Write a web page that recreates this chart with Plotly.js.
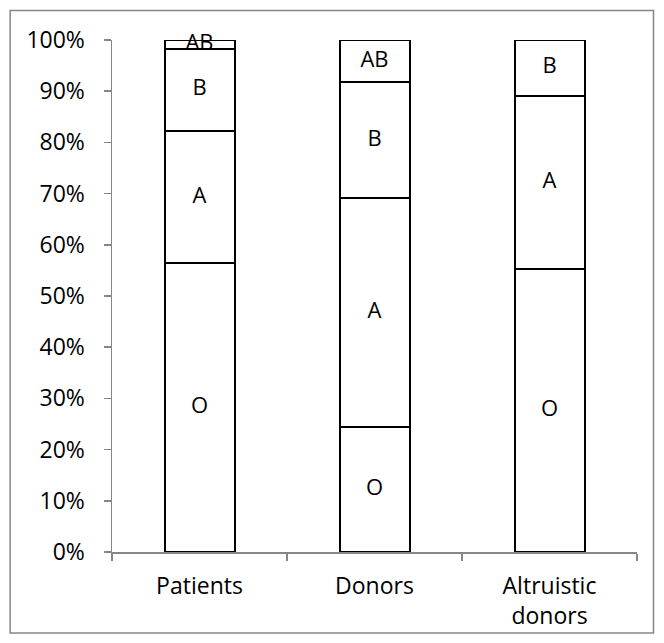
<!DOCTYPE html>
<html>
<head>
<meta charset="utf-8">
<script src="https://cdn.plot.ly/plotly-3.0.1.min.js"></script>
<style>
  html, body { margin: 0; padding: 0; background: #ffffff; }
  #chart { width: 664px; height: 643px; }
</style>
</head>
<body>
<div id="chart"></div>
<script>
// Blood group distribution (share of each group, %)
const groups = ["Patients", "Donors", "Altruistic<br>donors"];
const bloodTypes = ["O", "A", "B", "AB"];
const valuesO  = [56.4, 24.5, 55.3];
const valuesA  = [25.8, 44.6, 33.8];
const valuesB  = [16.1, 22.7, 10.9];
const valuesAB = [1.7, 8.2, 0];
const yTickVals = [0, 10, 20, 30, 40, 50, 60, 70, 80, 90, 100];
const yTickText = ["0%", "10%", "20%", "30%", "40%", "50%", "60%", "70%", "80%", "90%", "100%"];

const seriesValues = [valuesO, valuesA, valuesB, valuesAB];
const FONT = "Open Sans, Noto Sans, sans-serif";
const AXIS_GREY = "#868686";

// stacked segments: white boxes with black outlines
const barTraces = bloodTypes.map((name, i) => ({
  type: "bar",
  name: name,
  x: groups,
  y: seriesValues[i],
  marker: { color: "#ffffff", line: { color: "#000000", width: 2 } },
  hoverinfo: "skip"
}));

// group names centred on each segment (drawn even when the segment is thin)
const labelX = [], labelY = [], labelText = [];
groups.forEach((g, j) => {
  let base = 0;
  seriesValues.forEach((vals, i) => {
    const v = vals[j];
    if (v > 0) {
      labelX.push(g);
      labelY.push(base + v / 2);
      labelText.push(bloodTypes[i]);
    }
    base += v;
  });
});

const labelTrace = {
  type: "scatter",
  mode: "text",
  x: labelX,
  y: labelY,
  text: labelText,
  textposition: "middle center",
  textfont: { family: FONT, size: 22, color: "#000000" },
  cliponaxis: false,
  hoverinfo: "skip"
};

const layout = {
  width: 664,
  height: 643,
  barmode: "stack",
  bargap: 0.6,
  showlegend: false,
  paper_bgcolor: "#ffffff",
  plot_bgcolor: "#ffffff",
  margin: { l: 112, r: 27, t: 40, b: 91 },
  font: { family: FONT, size: 23, color: "#000000" },
  xaxis: {
    type: "category",
    showline: true,
    linecolor: AXIS_GREY,
    linewidth: 2,
    ticks: "outside",
    tickson: "boundaries",
    ticklen: 7,
    tickcolor: AXIS_GREY,
    tickwidth: 1.5,
    ticklabelstandoff: 12,
    showgrid: false,
    zeroline: false,
    tickfont: { family: FONT, size: 23, color: "#000000" }
  },
  yaxis: {
    range: [0, 100],
    tickvals: yTickVals,
    ticktext: yTickText,
    showline: true,
    linecolor: AXIS_GREY,
    linewidth: 1.5,
    ticks: "outside",
    ticklen: 7,
    tickcolor: AXIS_GREY,
    tickwidth: 1.5,
    ticklabelstandoff: 14,
    showgrid: false,
    zeroline: false,
    tickfont: { family: FONT, size: 23, color: "#000000" }
  },
  // chart frame
  shapes: [{
    type: "rect",
    xref: "paper", yref: "paper",
    x0: -0.194, x1: 1.0314,
    y0: -0.158, y1: 1.0576,
    line: { color: AXIS_GREY, width: 1.5 },
    fillcolor: "rgba(0,0,0,0)",
    layer: "below"
  }]
};

Plotly.newPlot("chart", barTraces.concat([labelTrace]), layout, { displayModeBar: false, staticPlot: true });
</script>
</body>
</html>
